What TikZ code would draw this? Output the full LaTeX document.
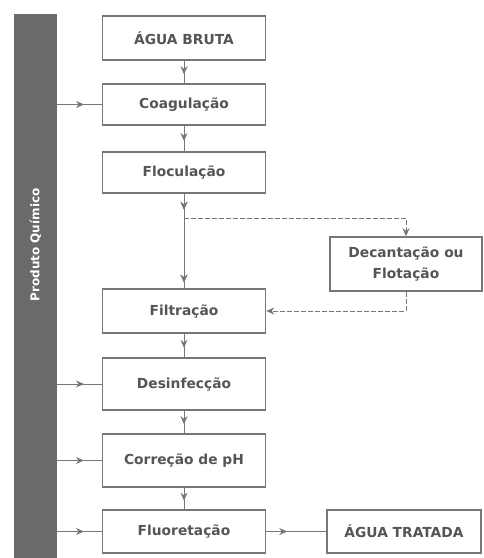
\documentclass[tikz,border=0pt]{standalone}
\usepackage{fontspec}
\setmainfont{DejaVu Sans}
\usetikzlibrary{arrows.meta,decorations.markings}
\definecolor{linegray}{HTML}{767676}
\definecolor{textgray}{HTML}{555555}
\definecolor{bargray}{HTML}{6A6A6A}
\tikzset{
etapa/.style={draw=linegray,line width=1.5pt,minimum width=163pt,minimum height=44pt,
  font=\bfseries\fontsize{13.8}{21}\selectfont,text=textgray,align=center},
fluxo/.style={draw=linegray,line width=1pt},
ponta/.tip={Stealth[length=8pt,width=7pt]},
midseta/.style={postaction={decorate},decoration={markings,
  mark=at position #1 with {\arrow{ponta}}}},
midseta/.default=0.6
}
\begin{document}
\begin{tikzpicture}[x=1pt,y=-1pt]
\useasboundingbox (0,0) rectangle (483,558);
% barra do produto quimico
\node[fill=bargray,minimum width=43pt,minimum height=544pt,anchor=north west,inner sep=0pt] (bar) at (14,14) {};
\node[rotate=90,text=white,font=\bfseries\fontsize{12}{14}\selectfont] (rotulo) at (35.5,245) {Produto Químico};
% etapas
\node[etapa] (bruta) at (184,38) {ÁGUA BRUTA};
\node[etapa,minimum height=41pt] (coag) at (184,104.5) {Coagulação};
\node[etapa,minimum height=41pt] (floc) at (184,172.5) {Floculação};
\node[etapa,minimum width=152pt,minimum height=54pt] (decant) at (406,264) {Decantação ou\\Flotação};
\node[etapa] (filt) at (184,311) {Filtração};
\node[etapa,minimum height=52pt] (desinf) at (184,384) {Desinfecção};
\node[etapa,minimum height=53pt] (corr) at (184,460.5) {Correção de pH};
\node[etapa,minimum height=43pt] (fluor) at (184,531.5) {Fluoretação};
\node[etapa,minimum width=154pt,minimum height=43pt] (tratada) at (404,531.5) {ÁGUA TRATADA};
% ligacoes
\draw[fluxo,midseta] (bruta) -- (coag);
\draw[fluxo,midseta] (coag) -- (floc);
\draw[fluxo,midseta=0.17,midseta=0.94] (floc) -- (filt);
\coordinate (desvio) at (184,218);
\draw[fluxo,dash pattern=on 5pt off 2pt,-ponta] (desvio) -| (decant.north);
\draw[fluxo,dash pattern=on 5pt off 2pt,-ponta] (decant.south) |- (filt.east);
\draw[fluxo,midseta] (filt) -- (desinf);
\draw[fluxo,midseta] (desinf) -- (corr);
\draw[fluxo,midseta] (corr) -- (fluor);
\draw[fluxo,midseta=0.35] (fluor) -- (tratada);
\foreach \e in {coag,desinf,corr,fluor}
  \draw[fluxo,midseta=0.6] (bar.east |- \e.west) -- (\e.west);
\end{tikzpicture}
\end{document}
